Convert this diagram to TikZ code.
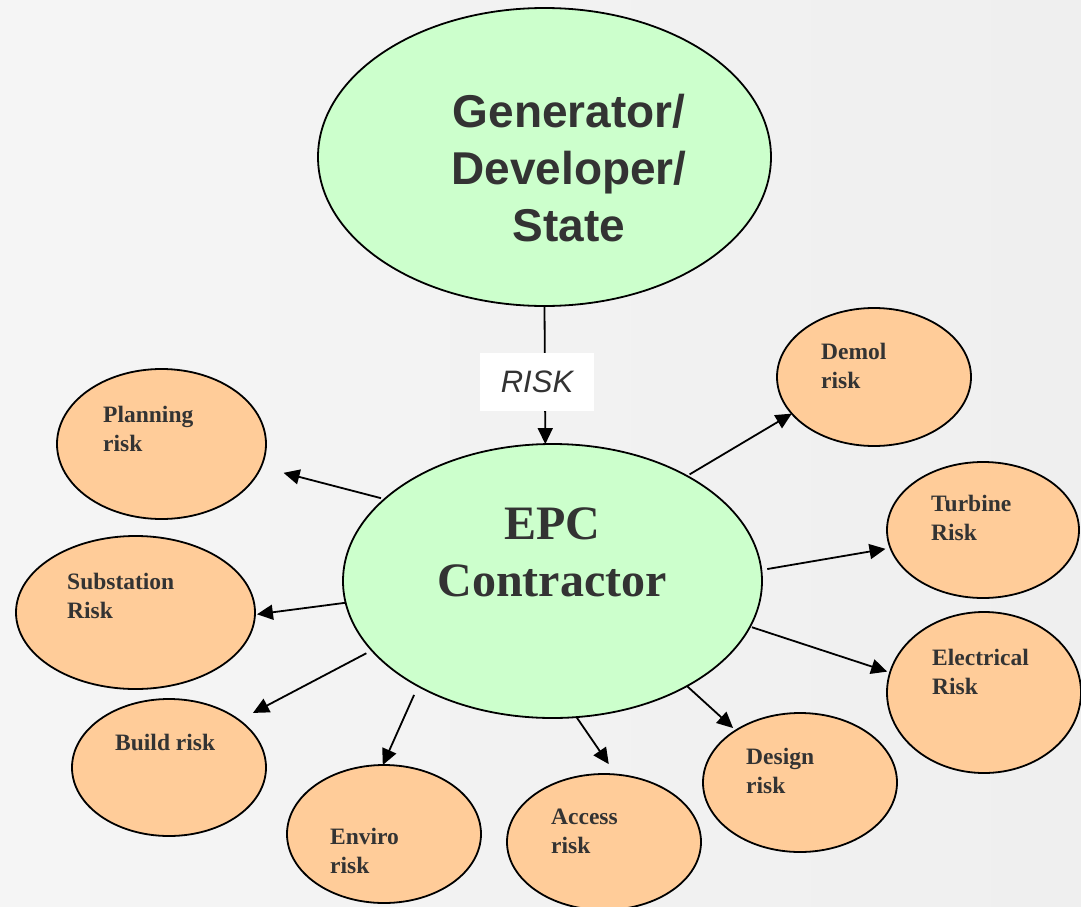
\documentclass[tikz,border=0pt]{standalone}
\usepackage{fontspec}
\setmainfont{Liberation Serif}
\newfontfamily\arialf{Liberation Sans}
\usetikzlibrary{shapes.geometric,arrows.meta}
\definecolor{bgL}{HTML}{F5F5F5}
\definecolor{bgM}{HTML}{E7E7E7}
\definecolor{bgR}{HTML}{EFEFEF}
\definecolor{epcgreen}{HTML}{CCFFCC}
\definecolor{riskorange}{HTML}{FFCC99}
\definecolor{txtgray}{HTML}{333333}
\begin{document}
\begin{tikzpicture}[x=1pt,y=-1pt,
  bubble/.style={ellipse,draw=black,line width=1.8pt,inner sep=0pt,outer sep=0pt},
  gbubble/.style={bubble,fill=epcgreen},
  obubble/.style={bubble,fill=riskorange},
  risktext/.style={anchor=base west,align=left,inner sep=0pt,text=txtgray,
    font=\fontsize{23.5}{28.5}\selectfont\bfseries},
  bigtext/.style={anchor=base,align=center,inner sep=0pt,text=txtgray},
  arr/.style={-{Triangle[length=16pt,width=15pt]},line width=1.8pt,draw=black}
]
\useasboundingbox (0,0) rectangle (1081,907);
\clip (0,0) rectangle (1081,907);
\shade[left color=bgL, middle color=bgM, right color=bgR] (0,0) rectangle (1081,907);

% main ellipses
\node[gbubble,minimum width=453pt,minimum height=298pt] (gen) at (544.5,157) {};
\node[gbubble,minimum width=419pt,minimum height=274pt] (epc) at (552.5,581) {};

% risk ellipses
\node[obubble,minimum width=209pt,minimum height=150pt] (plan) at (161.5,444) {};
\node[obubble,minimum width=239pt,minimum height=153pt] (sub) at (135.5,612.5) {};
\node[obubble,minimum width=194pt,minimum height=137pt] (build) at (169,767.5) {};
\node[obubble,minimum width=194pt,minimum height=138pt] (env) at (384,834) {};
\node[obubble,minimum width=194pt,minimum height=136pt] (acc) at (604,842) {};
\node[obubble,minimum width=194pt,minimum height=139pt] (des) at (800,782.5) {};
\node[obubble,minimum width=194pt,minimum height=161pt] (ele) at (984,692.5) {};
\node[obubble,minimum width=192pt,minimum height=136pt] (tur) at (983,530) {};
\node[obubble,minimum width=194pt,minimum height=138pt] (dem) at (874,377) {};

% texts (anchor = baseline of last line)
\node[bigtext,font=\arialf\fontsize{46}{57}\selectfont\bfseries] (gentxt) at (569,241) {Generator/\\Developer/\\State};
\node[bigtext,font=\fontsize{48}{57}\selectfont\bfseries] (epctxt) at (552,596) {EPC\\Contractor};
\node[risktext] (plantxt) at (103,451) {Planning\\risk};
\node[risktext] (subtxt) at (67,618) {Substation\\Risk};
\node[risktext] (buildtxt) at (115,750) {Build risk};
\node[risktext] (envtxt) at (330,873) {Enviro\\risk};
\node[risktext] (acctxt) at (551,853) {Access\\risk};
\node[risktext] (destxt) at (746,793) {Design\\risk};
\node[risktext] (eletxt) at (932,694) {Electrical\\Risk};
\node[risktext] (turtxt) at (931,540) {Turbine\\Risk};
\node[risktext] (demtxt) at (821,388) {Demol\\risk};

% connectors
\draw[arr] (gen.south) -- (epc.93.1);
\node[fill=white,inner sep=0pt,minimum width=114pt,minimum height=58pt,text=txtgray,
  font=\arialf\fontsize{31}{36}\selectfont\itshape] (risklbl) at (537,382) {RISK};

\draw[arr,shorten <=3.7pt,shorten >=23.3pt] (epc.154.4) -- (plan.-13.7);
\draw[arr,shorten >=2pt] (epc.186.9) -- (sub.-1.3);
\draw[arr,shorten <=6.2pt,shorten >=15.6pt] (epc.201.3) -- (build.34);
\draw[arr,shorten <=9.7pt] (epc.218.7) -- (env.91);
\draw[arr,shorten >=12.6pt] (epc.280) -- (acc.80.7);
\draw[arr,shorten >=3.6pt] (epc.322.9) -- (des.141.1);
\draw[arr,shorten <=2pt,shorten >=3pt] (epc.347.1) -- (ele.168.3);
\draw[arr,shorten <=6pt,shorten >=5pt] (epc.3.6) -- (tur.191.8);
\draw[arr,shorten <=3pt] (epc.38.9) -- (dem.204.6);
\end{tikzpicture}
\end{document}
